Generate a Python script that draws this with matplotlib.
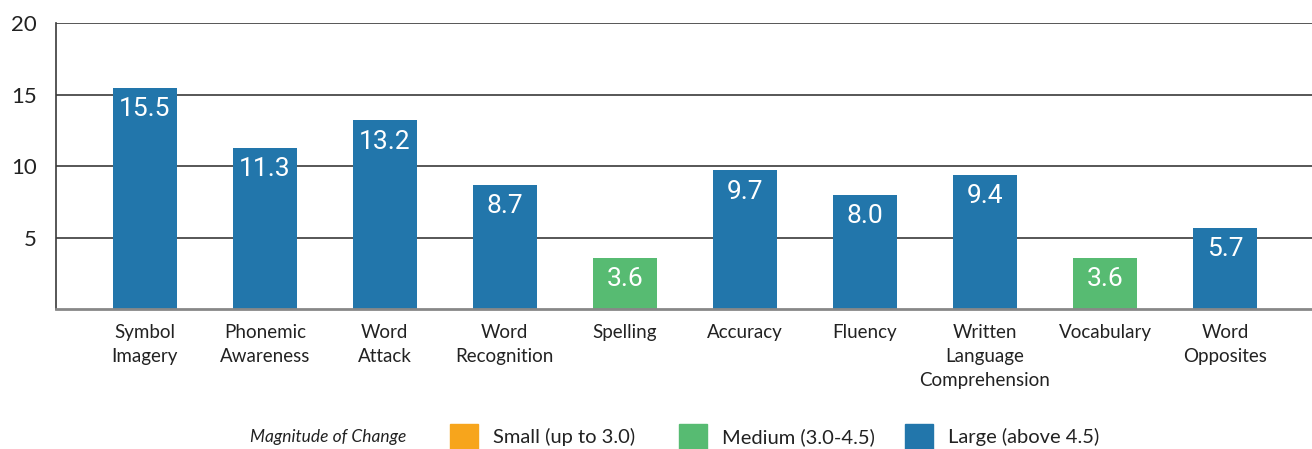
import matplotlib
matplotlib.use("Agg")
import matplotlib.pyplot as plt
from matplotlib.patches import Rectangle

categories = ["Symbol\nImagery", "Phonemic\nAwareness", "Word\nAttack", "Word\nRecognition",
              "Spelling", "Accuracy", "Fluency", "Written\nLanguage\nComprehension",
              "Vocabulary", "Word\nOpposites"]
values = [15.5, 11.3, 13.2, 8.7, 3.6, 9.7, 8.0, 9.4, 3.6, 5.7]
value_labels = ["15.5", "11.3", "13.2", "8.7", "3.6", "9.7", "8.0", "9.4", "3.6", "5.7"]
magnitude = ["Large", "Large", "Large", "Large", "Medium", "Large", "Large", "Large", "Medium", "Large"]
y_ticks = [5, 10, 15, 20]

legend_names = ["Small", "Medium", "Large"]
legend_labels = ["Small (up to 3.0)", "Medium (3.0-4.5)", "Large (above 4.5)"]
colors = {"Small": "#F7A51C", "Medium": "#57BB72", "Large": "#2276AB"}

plt.rcParams['font.family'] = ['Lato', 'DejaVu Sans']

fig = plt.figure(figsize=(13.12, 4.49), dpi=100)
ax = fig.add_axes([0.0427, 0.312, 0.9573, 0.636])

x = list(range(len(values)))
bars = ax.bar(x, values, width=0.53, color=[colors[m] for m in magnitude], zorder=3)

for b, lab in zip(bars, value_labels):
    ax.annotate(lab, (b.get_x() + b.get_width() / 2, b.get_height()),
                xytext=(0, -7), textcoords='offset points', ha='center', va='top',
                color='white', fontsize=19, family='Roboto', zorder=4)

ax.set_xlim(-0.74, 9.725)
ax.set_ylim(0, 20)
ax.set_yticks(y_ticks)
ax.set_yticklabels([str(t) for t in y_ticks], fontsize=16, color='#222222')
ax.set_xticks(x)
ax.set_xticklabels(categories, fontsize=13.5, color='#222222', linespacing=1.5)
ax.tick_params(axis='both', length=0)
ax.tick_params(axis='y', pad=14)
ax.tick_params(axis='x', pad=11)

for t in y_ticks:
    ax.axhline(t, color='#3a3a3a', lw=1.2, zorder=1)

ax.spines['top'].set_visible(False)
ax.spines['right'].set_visible(False)
ax.spines['left'].set_color('#3a3a3a')
ax.spines['left'].set_linewidth(1.2)
ax.spines['bottom'].set_color('#888888')
ax.spines['bottom'].set_linewidth(2)
ax.spines['bottom'].set_zorder(5)

# legend row at the bottom
W, H = 1312, 449
ly = 1 - 437 / H
fig.text(250 / W, ly, "Magnitude of Change", style='italic', fontsize=12.5,
         va='center', ha='left', color='#222222')
box_x = [450, 679, 905]
for bx, name, lab in zip(box_x, legend_names, legend_labels):
    fig.patches.append(Rectangle((bx / W, 1 - 451 / H), 28 / W, 27 / H,
                                 transform=fig.transFigure, color=colors[name]))
    fig.text((bx + 43) / W, ly, lab, fontsize=14.5, va='center', ha='left', color='#222222')

fig.savefig("out.png", dpi=100)
